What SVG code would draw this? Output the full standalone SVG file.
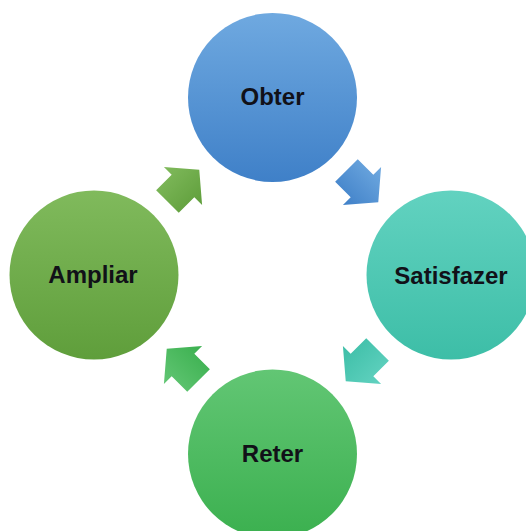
<svg xmlns="http://www.w3.org/2000/svg" width="526" height="531" viewBox="0 0 526 531">
<defs>
<linearGradient id="gBlue" x1="0" y1="0" x2="0" y2="1"><stop offset="0" stop-color="#6fa9e0"/><stop offset="1" stop-color="#3f80c8"/></linearGradient>
<linearGradient id="gTeal" x1="0" y1="0" x2="0" y2="1"><stop offset="0" stop-color="#62d2c0"/><stop offset="1" stop-color="#3dbea7"/></linearGradient>
<linearGradient id="gGreen" x1="0" y1="0" x2="0" y2="1"><stop offset="0" stop-color="#62c674"/><stop offset="1" stop-color="#3bb04f"/></linearGradient>
<linearGradient id="gOlive" x1="0" y1="0" x2="0" y2="1"><stop offset="0" stop-color="#80ba5c"/><stop offset="1" stop-color="#5f9e3b"/></linearGradient>
<polygon id="arrow" points="-22,-16 0,-16 0,-27 23,0 0,27 0,16 -22,16"/>
</defs>
<style>
.lbl{font-family:"Liberation Sans",Arial,sans-serif;font-weight:bold;font-size:24px;fill:#111118;text-anchor:middle}
</style>
<g id="connectors">
<use href="#arrow" fill="url(#gBlue)" transform="translate(362,186) rotate(45)"/>
<use href="#arrow" fill="url(#gTeal)" transform="translate(362,365) rotate(135)"/>
<use href="#arrow" fill="url(#gGreen)" transform="translate(183,365) rotate(225)"/>
<use href="#arrow" fill="url(#gOlive)" transform="translate(183,186) rotate(315)"/>
</g>
<g id="obter">
<circle cx="272.5" cy="97.5" r="84.5" fill="url(#gBlue)"/>
<text class="lbl" x="272.5" y="105">Obter</text>
</g>
<g id="satisfazer">
<circle cx="451" cy="275" r="84.5" fill="url(#gTeal)"/>
<text class="lbl" x="451" y="284">Satisfazer</text>
</g>
<g id="reter">
<circle cx="272.5" cy="454" r="84.5" fill="url(#gGreen)"/>
<text class="lbl" x="272.5" y="462">Reter</text>
</g>
<g id="ampliar">
<circle cx="94" cy="275" r="84.5" fill="url(#gOlive)"/>
<text class="lbl" x="93" y="283">Ampliar</text>
</g>
</svg>
